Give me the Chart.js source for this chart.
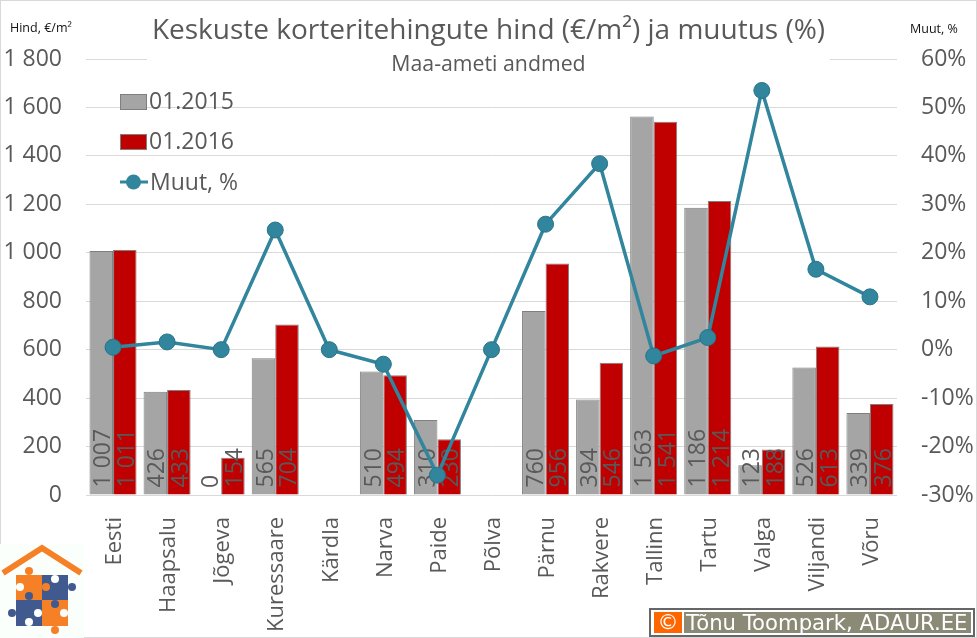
<!DOCTYPE html>
<html lang="et">
<head>
<meta charset="utf-8">
<title>Keskuste korteritehingute hind ja muutus</title>
<script src="https://cdn.jsdelivr.net/npm/chart.js@4"></script>
<style>
html,body{margin:0;padding:0;background:#fff;}
#wrap{position:relative;width:977px;height:638px;overflow:hidden;font-family:"Open Sans",sans-serif;}
#c{position:absolute;left:0;top:0;}
#frame{position:absolute;left:0;top:0;width:975px;height:636px;border:1px solid #d9d9d9;pointer-events:none;}
.t{position:absolute;white-space:nowrap;color:#595959;line-height:1;}
#titlebox{position:absolute;left:147px;top:10px;width:683px;height:66px;background:#fff;}
#title{left:147px;width:683px;top:14px;text-align:center;font-size:28px;}
#sub{left:147px;width:683px;top:52px;text-align:center;font-size:21.3px;}
#ul,#ur{font-size:12.5px;color:#111;}
#ul{left:10px;top:22px;} #ur{left:910px;top:23px;}
.leg{font-size:23px;left:149px;}
.sw{position:absolute;left:120px;width:25px;height:14px;border:1px solid #7f7f7f;}
#foot{position:absolute;left:649px;top:608px;width:322px;height:25px;border:2px solid #666;background:#fff;padding:0;}
#foot .c{position:absolute;left:3px;top:2px;width:28px;height:21px;background:#f60;color:#fff;font:21px/21px "DejaVu Sans";text-align:center;}
#foot .n{position:absolute;left:33px;top:2px;width:287px;height:21px;background:#8a8a76;color:#fff;font:21.2px/21px "DejaVu Sans";white-space:nowrap;text-indent:2px;overflow:hidden;}
#logo{position:absolute;left:0;top:544px;}
</style>
</head>
<body>
<div id="wrap">
<canvas id="c" width="977" height="638"></canvas>
<div id="frame"></div>
<div id="titlebox"></div>
<div class="t" id="title">Keskuste korteritehingute hind (€/m²) ja muutus (%)</div>
<div class="t" id="sub">Maa-ameti andmed</div>
<div class="t" id="ul">Hind, €/m²</div>
<div class="t" id="ur">Muut, %</div>
<div class="sw" style="top:94px;background:#a5a5a5"></div>
<div class="t leg" id="l1" style="top:89px"></div>
<div class="sw" style="top:134px;background:#c00000"></div>
<div class="t leg" id="l2" style="top:129px"></div>
<svg style="position:absolute;left:119px;top:172px" width="30" height="20"><line x1="1" y1="10" x2="29" y2="10" stroke="#31859c" stroke-width="3"/><circle cx="14.5" cy="10" r="7.5" fill="#31859c"/></svg>
<div class="t leg" id="l3" style="top:170px;left:150px"></div>
<svg id="logo" width="84" height="94" viewBox="0 0 84 94">
<rect width="84" height="94" fill="#fbfffb"/>
<polyline points="3,29 42,4 81,29" fill="none" stroke="#f58025" stroke-width="6"/>
<rect x="16" y="31" width="26" height="25" fill="#f58025"/>
<rect x="42" y="31" width="26" height="25" fill="#40598f"/>
<rect x="16" y="56" width="26" height="26" fill="#40598f"/>
<rect x="42" y="56" width="26" height="26" fill="#f58025"/>
<circle cx="29" cy="27" r="4" fill="#f58025"/><circle cx="55" cy="35" r="4" fill="#fff"/>
<circle cx="72" cy="43" r="4" fill="#40598f"/><circle cx="20" cy="43" r="4" fill="#fff"/>
<circle cx="46" cy="43" r="4" fill="#f58025"/><circle cx="29" cy="52" r="4" fill="#40598f"/>
<circle cx="55" cy="60" r="4" fill="#40598f"/><circle cx="12" cy="69" r="4" fill="#40598f"/>
<circle cx="38" cy="69" r="4" fill="#fff"/><circle cx="29" cy="78" r="4" fill="#fff"/>
<circle cx="55" cy="86" r="4" fill="#f58025"/><circle cx="64" cy="69" r="4" fill="#fff"/>
</svg>
<div id="foot"><div class="c">©</div><div class="n">Tõnu Toompark, ADAUR.EE</div></div>
</div>
<script>
const categories = ["Eesti","Haapsalu","Jõgeva","Kuressaare","Kärdla","Narva","Paide","Põlva","Pärnu","Rakvere","Tallinn","Tartu","Valga","Viljandi","Võru"];
const name2015 = "01.2015";
const name2016 = "01.2016";
const nameChange = "Muut, %";
const values2015 = [1007,426,0,565,null,510,310,null,760,394,1563,1186,123,526,339];
const values2016 = [1011,433,154,704,null,494,230,null,956,546,1541,1214,188,613,376];
const changePct = [0.5,1.6,0,24.7,0,-3.0,-25.9,0,25.9,38.4,-1.3,2.5,53.5,16.6,10.9];

document.getElementById('l1').textContent = name2015;
document.getElementById('l2').textContent = name2016;
document.getElementById('l3').textContent = nameChange;

const spaced = v => String(v).replace(/\B(?=(\d{3})+$)/g, ' ');
const GREY = '#595959';
const FONT = '"Open Sans", sans-serif';
const TICK_SIZE = 23;

const barLabels = {
  id: 'barLabels',
  afterDatasetDraw(chart, args) {
    const ds = chart.data.datasets[args.index];
    if (ds.type !== 'bar') return;
    const meta = chart.getDatasetMeta(args.index);
    const ctx = chart.ctx;
    ctx.save();
    ctx.font = TICK_SIZE + 'px ' + FONT;
    ctx.fillStyle = GREY;
    ctx.textAlign = 'left';
    ctx.textBaseline = 'middle';
    meta.data.forEach((el, i) => {
      const v = ds.data[i];
      if (v === null) return;
      ctx.save();
      ctx.translate(el.x + 2.5, el.base - 7);
      ctx.rotate(-Math.PI / 2);
      ctx.fillText(spaced(v), 0, 0);
      ctx.restore();
    });
    ctx.restore();
  }
};

new Chart(document.getElementById('c'), {
  data: {
    labels: categories,
    datasets: [
      {type:'line', label:nameChange, data:changePct, yAxisID:'y1', order:0,
       borderColor:'#31859c', borderWidth:3.5, tension:0,
       pointRadius:8, pointHoverRadius:8, pointBackgroundColor:'#31859c', pointBorderColor:'#2a7488', pointBorderWidth:1},
      {type:'bar', label:name2015, data:values2015, yAxisID:'y', order:1,
       backgroundColor:'#a5a5a5', borderColor:'#7f7f7f', borderWidth:1,
       categoryPercentage:0.87, barPercentage:1},
      {type:'bar', label:name2016, data:values2016, yAxisID:'y', order:2,
       backgroundColor:'#c00000', borderColor:'#7f7f7f', borderWidth:1,
       categoryPercentage:0.87, barPercentage:1}
    ]
  },
  options: {
    responsive:false, animation:false, devicePixelRatio:1,
    layout:{padding:{top:59,left:0,right:0,bottom:0}},
    plugins:{legend:{display:false},title:{display:false},tooltip:{enabled:false}},
    scales:{
      x:{
        offset:true,
        grid:{display:false},
        border:{display:false},
        ticks:{color:GREY,font:{family:FONT,size:22},minRotation:90,maxRotation:90,autoSkip:false,padding:14,labelOffset:2},
        afterFit(s){s.height=143;}
      },
      y:{
        position:'left',min:0,max:1800,
        grid:{color:'#d9d9d9',lineWidth:1,drawTicks:false},
        border:{display:false},
        ticks:{color:GREY,font:{family:FONT,size:TICK_SIZE},stepSize:200,padding:24,callback:v=>spaced(v)},
        afterFit(s){s.width=86;}
      },
      y1:{
        position:'right',min:-30,max:60,
        grid:{display:false,drawTicks:false},
        border:{display:false},
        ticks:{color:GREY,font:{family:FONT,size:TICK_SIZE},stepSize:10,padding:24,callback:v=>v+'%'},
        afterFit(s){s.width=80;}
      }
    }
  },
  plugins:[barLabels]
});
</script>
</body>
</html>
